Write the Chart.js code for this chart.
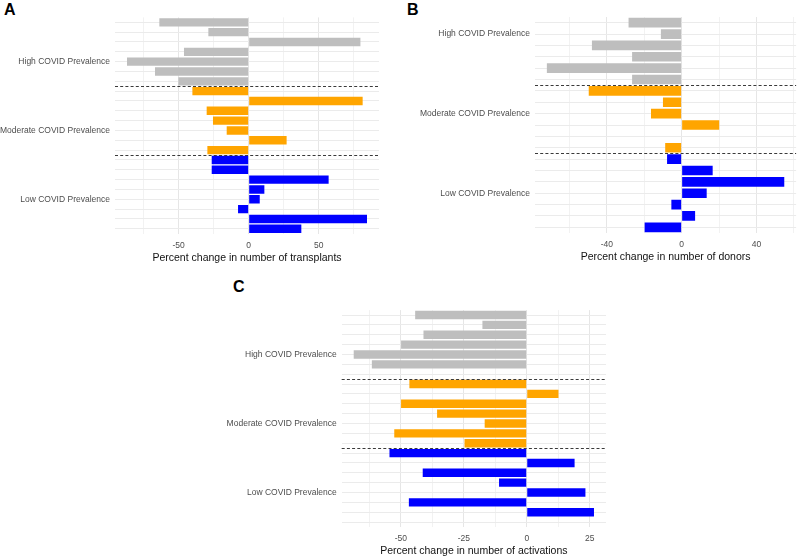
<!DOCTYPE html>
<html>
<head>
<meta charset="utf-8">
<script src="https://cdn.jsdelivr.net/npm/chart.js@4"></script>
<style>
  html, body { margin:0; padding:0; background:#fff; width:800px; height:557px; overflow:hidden; }
  .panel { position:absolute; }
  .tag { position:absolute; font-family:"Liberation Sans", Arial, sans-serif; font-weight:bold; font-size:16px; line-height:16px; color:#000; }
</style>
</head>
<body>
<div class="tag" style="left:4px;top:2px;">A</div>
<div class="tag" style="left:407px;top:2px;">B</div>
<div class="tag" style="left:233px;top:279px;">C</div>
<canvas id="cA" class="panel"></canvas>
<canvas id="cB" class="panel"></canvas>
<canvas id="cC" class="panel"></canvas>
<script>
// ---------------- DATA ----------------
const groupNames = ['High COVID Prevalence', 'Moderate COVID Prevalence', 'Low COVID Prevalence'];
const groupColors = ['#BEBEBE', '#FFA500', '#0000FF'];

// Panel A: percent change in number of transplants
const transplantsHigh = [-63.8, -28.8, 79.8, -46.2, -86.9, -66.9, -50.2];
const transplantsModerate = [-40.2, 81.4, -30.0, -25.5, -15.7, 27.1, -29.5];
const transplantsLow = [-26.4, -26.4, 57.1, 11.2, 7.9, -7.6, 84.5, 37.6];
const transplantsLabelRows = [5, 12, 19];
const transplantsGridTicks = [-75, -50, -25, 0, 25, 50, 75];
const transplantsTickLabels = [-50, 0, 50];

// Panel B: percent change in number of donors
const donorsHigh = [-28.4, -11.1, -48.0, -26.5, -72.1, -26.5];
const donorsModerate = [-49.7, -10.0, -16.4, 20.1, null, -8.8];
const donorsLow = [-7.8, 16.6, 54.9, 13.4, -5.5, 7.2, -19.8];
const donorsLabelRows = [2, 9, 16];
const donorsGridTicks = [-60, -40, -20, 0, 20, 40, 60];
const donorsTickLabels = [-40, 0, 40];

// Panel C: percent change in number of activations
const activationsHigh = [-44.3, -17.6, -41.0, -49.9, -68.7, -61.5, null];
const activationsModerate = [-46.6, 12.6, -49.9, -35.6, -16.7, -52.6, -24.7];
const activationsLow = [-54.5, 19.0, -41.3, -11.0, 23.3, -46.8, 26.7, null];
const activationsLabelRows = [5, 12, 19];
const activationsGridTicks = [-62.5, -50, -37.5, -25, -12.5, 0, 12.5, 25];
const activationsTickLabels = [-50, -25, 0, 25];

// ---------------- CHART BUILDER ----------------
Chart.defaults.font.family = '"Liberation Sans", Arial, sans-serif';
Chart.defaults.animation = false;

const sepPlugin = {
  id: 'sep',
  afterDatasetsDraw(chart, args, opts) {
    const ctx = chart.ctx, y = chart.scales.y, area = chart.chartArea;
    ctx.save();
    ctx.strokeStyle = '#3a3a3a';
    ctx.lineWidth = 1;
    ctx.setLineDash([3, 2.2]);
    opts.bounds.forEach(b => {
      const py = Math.round((y.getPixelForValue(b - 1) + y.getPixelForValue(b)) / 2) + 0.5;
      ctx.beginPath();
      ctx.moveTo(area.left, py);
      ctx.lineTo(area.right, py);
      ctx.stroke();
    });
    ctx.restore();
  }
};

function build(id, groups, labelRows, gridTicks, tickLabels, title, lay) {
  const values = [].concat(...groups);
  const colors = [];
  groups.forEach((g, i) => g.forEach(() => colors.push(groupColors[i])));
  const labels = values.map(() => '');
  labelRows.forEach((r, i) => { labels[r - 1] = groupNames[i]; });
  const bounds = [];
  let acc = 0;
  groups.slice(0, -1).forEach(g => { acc += g.length; bounds.push(acc); });
  const nums = values.filter(v => v !== null);
  const dMin = Math.min(0, ...nums), dMax = Math.max(0, ...nums);
  const span = dMax - dMin;

  const cv = document.getElementById(id);
  cv.width = lay.w; cv.height = lay.h;
  cv.style.left = lay.x + 'px'; cv.style.top = lay.y + 'px';
  cv.style.width = lay.w + 'px'; cv.style.height = lay.h + 'px';

  const plotBottom = lay.plotB - lay.y;
  const xh = lay.h - plotBottom;

  new Chart(cv, {
    type: 'bar',
    data: {
      labels: labels,
      datasets: [{ data: values, backgroundColor: colors, borderWidth: 0,
                   barPercentage: 0.85, categoryPercentage: 1.0 }]
    },
    options: {
      responsive: false,
      indexAxis: 'y',
      layout: { padding: { top: lay.plotT - lay.y, right: lay.x + lay.w - lay.plotR, left: 0, bottom: 0 } },
      plugins: { legend: { display: false }, tooltip: { enabled: false }, sep: { bounds: bounds } },
      scales: {
        x: {
          type: 'linear',
          min: dMin - 0.05 * span,
          max: dMax + 0.05 * span,
          afterBuildTicks: s => { s.ticks = gridTicks.map(v => ({ value: v })); },
          afterFit: s => { s.height = xh; },
          border: { display: false },
          grid: {
            drawTicks: false,
            color: c => tickLabels.includes(c.tick && c.tick.value) ? '#E6E6E6' : '#F2F2F2',
            lineWidth: 1
          },
          ticks: {
            autoSkip: false, maxRotation: 0, padding: lay.tickPad,
            color: '#4D4D4D', font: { size: 8.5 },
            callback: v => tickLabels.includes(v) ? String(v) : ''
          },
          title: {
            display: true, text: title, color: '#111',
            font: { size: 10.5 },
            padding: { top: 0, bottom: Math.max(0, lay.h - (lay.titleY - lay.y) - 6.3) }
          }
        },
        y: {
          type: 'category',
          offset: true,
          afterFit: s => { s.width = lay.plotL - lay.x; },
          border: { display: false },
          grid: { offset: false, drawTicks: false, color: '#EBEBEB', lineWidth: 1 },
          ticks: { autoSkip: false, padding: 5, color: '#4D4D4D', font: { size: 8.5 } }
        }
      }
    },
    plugins: [sepPlugin]
  });
}

build('cA', [transplantsHigh, transplantsModerate, transplantsLow], transplantsLabelRows,
      transplantsGridTicks, transplantsTickLabels, 'Percent change in number of transplants',
      { x: 0, y: 0, w: 380, h: 267, plotL: 115, plotR: 379, plotT: 17.4, plotB: 233.7, tickPad: 6.9, titleY: 258.3 });

build('cB', [donorsHigh, donorsModerate, donorsLow], donorsLabelRows,
      donorsGridTicks, donorsTickLabels, 'Percent change in number of donors',
      { x: 400, y: 0, w: 400, h: 267, plotL: 535, plotR: 800, plotT: 17.0, plotB: 233.0, tickPad: 6.2, titleY: 256.7 });

build('cC', [activationsHigh, activationsModerate, activationsLow], activationsLabelRows,
      activationsGridTicks, activationsTickLabels, 'Percent change in number of activations',
      { x: 200, y: 300, w: 406, h: 257, plotL: 341.7, plotR: 606, plotT: 309.8, plotB: 527.05, tickPad: 6.15, titleY: 551 });
</script>
</body>
</html>
